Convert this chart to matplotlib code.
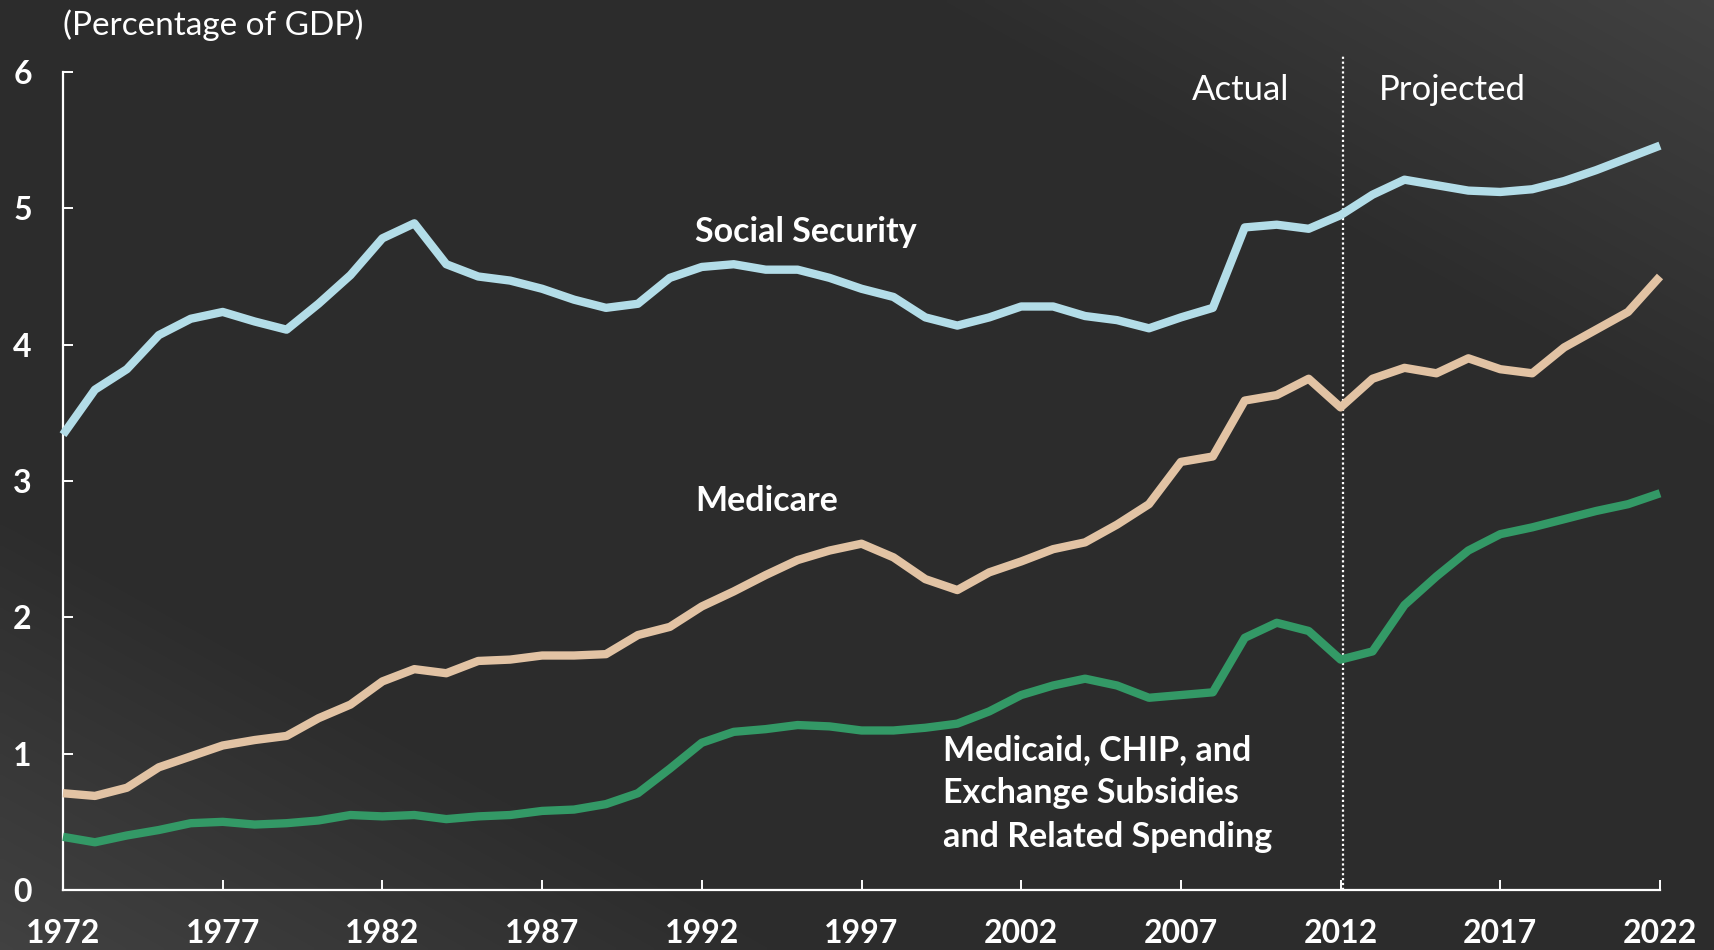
import numpy as np
import matplotlib
matplotlib.use("Agg")
import matplotlib.pyplot as plt

years = list(range(1972, 2023))
social_security = [3.34, 3.67, 3.82, 4.07, 4.19, 4.24, 4.17, 4.11, 4.30, 4.51,
                   4.78, 4.89, 4.59, 4.50, 4.47, 4.41, 4.33, 4.27, 4.30, 4.49,
                   4.57, 4.59, 4.55, 4.55, 4.49, 4.41, 4.35, 4.20, 4.14, 4.20,
                   4.28, 4.28, 4.21, 4.18, 4.12, 4.20, 4.27, 4.86, 4.88, 4.85,
                   4.95, 5.10, 5.21, 5.17, 5.13, 5.12, 5.14, 5.20, 5.28, 5.37, 5.46]
medicare = [0.71, 0.69, 0.75, 0.90, 0.98, 1.06, 1.10, 1.13, 1.26, 1.36,
            1.53, 1.62, 1.59, 1.68, 1.69, 1.72, 1.72, 1.73, 1.87, 1.93,
            2.08, 2.19, 2.31, 2.42, 2.49, 2.54, 2.44, 2.28, 2.20, 2.33,
            2.41, 2.50, 2.55, 2.68, 2.83, 3.14, 3.18, 3.59, 3.63, 3.75,
            3.54, 3.75, 3.83, 3.79, 3.90, 3.82, 3.79, 3.98, 4.11, 4.24, 4.50]
medicaid = [0.39, 0.35, 0.40, 0.44, 0.49, 0.50, 0.48, 0.49, 0.51, 0.55,
            0.54, 0.55, 0.52, 0.54, 0.55, 0.58, 0.59, 0.63, 0.71, 0.89,
            1.08, 1.16, 1.18, 1.21, 1.20, 1.17, 1.17, 1.19, 1.22, 1.31,
            1.43, 1.50, 1.55, 1.50, 1.41, 1.43, 1.45, 1.85, 1.96, 1.90,
            1.69, 1.75, 2.09, 2.30, 2.49, 2.61, 2.66, 2.72, 2.78, 2.83, 2.91]
xticks = [1972, 1977, 1982, 1987, 1992, 1997, 2002, 2007, 2012, 2017, 2022]
yticks = [0, 1, 2, 3, 4, 5, 6]

FONT = ["Lato", "DejaVu Sans"]
plt.rcParams['font.family'] = FONT

W, H = 1714, 950
fig = plt.figure(figsize=(W / 100, H / 100), dpi=100)

# background gradient
bg = fig.add_axes([0, 0, 1, 1], zorder=-10)
gx, gy = np.meshgrid(np.linspace(0, 1, 400), np.linspace(0, 1, 220))
t = gx - gy  # gy from top (0) to bottom (1)
val = 0.176 + 0.08 * np.clip(np.abs(t) - 0.55, 0, None) / 0.45
img = np.dstack([val, val, val])
bg.imshow(img, aspect='auto', extent=[0, 1, 1, 0], interpolation='bilinear')
bg.set_axis_off()

ax = fig.add_axes([63 / W, 1 - 890 / H, (1660 - 63) / W, (890 - 72) / H])
ax.set_facecolor('none')

lw = 6
ax.plot(years, social_security, color='#b3dde8', lw=lw, clip_on=False, solid_capstyle='butt', zorder=3)
ax.plot(years, medicare, color='#e2c3a4', lw=lw, clip_on=False, solid_capstyle='butt', zorder=3)
ax.plot(years, medicaid, color='#339966', lw=lw, clip_on=False, solid_capstyle='butt', zorder=3)

ax.set_xlim(1972, 2022)
ax.set_ylim(0, 6)
ax.set_xticks(xticks)
ax.set_yticks(yticks)
for s in ['top', 'right']:
    ax.spines[s].set_visible(False)
for s in ['left', 'bottom']:
    ax.spines[s].set_color('white')
    ax.spines[s].set_linewidth(1.6)
ax.tick_params(axis='both', direction='in', length=7.5, width=1.4, color='white',
               labelcolor='white', labelsize=23)
ax.tick_params(axis='x', pad=21)
ax.tick_params(axis='y', pad=22.5)
for lab in ax.get_xticklabels() + ax.get_yticklabels():
    lab.set_fontweight('bold')

# divider
ax.plot([2012.09, 2012.09], [0, 6.13], color='white', lw=1.6, ls=(0, (1, 1.2)),
        clip_on=False, zorder=2)

ax.text(2010.4, 5.865, "Actual", color='white', fontsize=25, ha='right', va='center')
ax.text(2013.2, 5.865, "Projected", color='white', fontsize=25, ha='left', va='center')

ax.text(1991.8, 4.83, "Social Security", color='white', fontsize=24.5, fontweight='bold',
        ha='left', va='center')
ax.text(1991.8, 2.85, "Medicare", color='white', fontsize=24.5, fontweight='bold',
        ha='left', va='center')
ax.text(1999.55, 0.71, "Medicaid, CHIP, and\nExchange Subsidies\nand Related Spending",
        color='white', fontsize=24.5, fontweight='bold', ha='left', va='center',
        linespacing=1.44)

fig.text(63 / W, 1 - 25 / H, "(Percentage of GDP)", color='white', fontsize=24,
         ha='left', va='center')

fig.savefig("out.png", dpi=100)
